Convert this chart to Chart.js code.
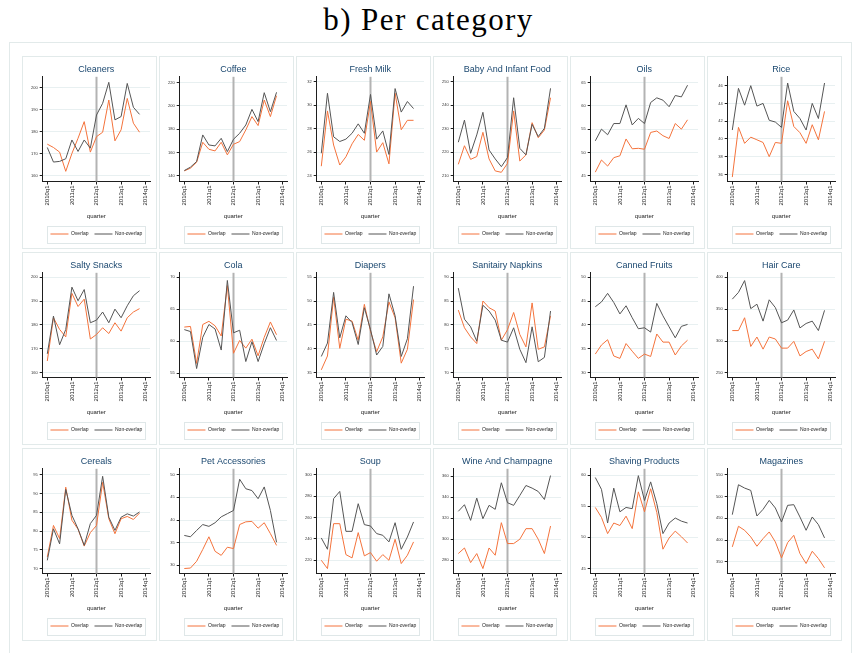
<!DOCTYPE html>
<html>
<head>
<meta charset="utf-8">
<script src="https://cdn.jsdelivr.net/npm/chart.js@4.4.1/dist/chart.umd.min.js"></script>
<style>
  body { margin: 0; background: #fff; width: 857px; height: 653px; overflow: hidden; position: relative; }
  #title { position: absolute; left: 0; top: 0; width: 857px; text-align: center; line-height: 40px;
           font-family: "Liberation Serif", "DejaVu Serif", serif; font-size: 31px; letter-spacing: 1.4px; color: #000; }
  #frame { position: absolute; left: 9px; top: 42px; width: 843px; height: 640px; border: 1px solid #e2eaea; box-sizing: border-box; }
  .panel { position: absolute; width: 135px; height: 193px; border: 1px solid #e2eaea; box-sizing: border-box; }
  canvas { position: absolute; }
</style>
</head>
<body>
<div id="title">b) Per category</div>
<div id="frame"></div>
<div id="grid"></div>
<script>
// quarters 2010q1 .. 2013q4 -> x = 0..15
const QUARTERS = ['2010q1','2010q2','2010q3','2010q4','2011q1','2011q2','2011q3','2011q4',
                  '2012q1','2012q2','2012q3','2012q4','2013q1','2013q2','2013q3','2013q4'];
const X_TICK_POS    = [0, 4, 8, 12, 16];
const X_TICK_LABELS = ['2010q1', '2011q1', '2012q1', '2013q1', '2014q1'];
const X_RANGE = [-0.75, 16.7];
const REF_QUARTER = 8; // 2012q1

const CATEGORIES = ['Cleaners', 'Coffee', 'Fresh Milk', 'Baby And Infant Food', 'Oils', 'Rice',
                    'Salty Snacks', 'Cola', 'Diapers', 'Sanitairy Napkins', 'Canned Fruits', 'Hair Care',
                    'Cereals', 'Pet Accessories', 'Soup', 'Wine And Champagne', 'Shaving Products', 'Magazines'];

const OVERLAP = [
  [174.3,172.8,170.7,162.0,170.1,177.0,184.5,170.7,177.7,179.7,194.3,175.8,180.8,195.0,183.8,179.7], // Cleaners
  [144.2,146.5,151.6,168.7,162.7,161.3,168.7,157.9,167.0,169.3,179.3,190.7,183.0,204.9,190.7,208.6], // Coffee
  [24.8,29.5,26.6,24.9,25.6,26.7,27.5,27.0,30.3,26.0,26.8,25.0,31.0,27.9,28.7,28.7],                // Fresh Milk
  [214.9,222.8,217.0,218.2,228.5,217.2,212.1,211.5,215.3,237.6,216.3,218.9,232.6,226.2,229.5,243.2], // Baby
  [45.8,48.4,47.1,48.9,49.3,52.9,50.8,50.9,50.7,54.3,54.6,53.6,53.0,56.2,55.0,57.0],                // Oils
  [35.7,41.3,39.5,40.2,39.9,39.6,38.0,39.6,39.5,44.3,41.4,40.7,39.5,41.6,39.9,43.1],                // Rice
  [164.9,183.0,178.1,175.0,193.2,187.7,190.8,174.1,176.0,178.8,176.4,180.9,177.4,183.0,185.4,186.8], // Salty Snacks
  [62.2,62.3,56.5,62.6,63.1,62.4,60.8,68.7,58.1,60.1,58.9,60.3,57.7,60.6,63.0,61.0],                // Cola
  [35.6,38.5,50.8,40.1,46.2,45.8,41.8,49.3,43.7,39.4,42.5,49.8,46.5,37.0,39.9,50.3],                // Diapers
  [83.1,79.4,77.5,76.1,85.0,83.6,82.9,76.8,79.0,82.6,78.0,75.4,84.6,74.9,75.4,81.9],                // Sanitairy Napkins
  [33.9,35.8,36.9,33.5,33.0,36.1,34.5,33.0,33.9,33.4,38.1,36.4,36.4,33.7,35.6,36.8],                // Canned Fruits
  [316.4,316.4,336.5,291.5,306.3,287.3,306.3,303.2,288.9,288.9,299.5,276.7,283.6,287.3,272.0,299.5], // Hair Care
  [73.1,81.5,78.0,91.7,82.9,80.5,76.0,79.6,81.5,93.0,83.3,79.3,83.3,83.9,83.1,84.8],                // Cereals
  [29.3,29.4,30.9,33.5,36.3,33.1,32.2,34.0,33.7,39.0,39.6,39.7,38.2,39.4,37.0,34.4],                // Pet Accessories
  [219.9,212.1,254.2,254.2,225.2,222.1,245.8,224.0,227.1,219.0,225.2,219.9,239.6,216.8,224.6,237.1], // Soup
  [286.3,291.6,277.7,286.3,272.0,291.6,284.7,315.7,295.8,295.8,299.9,310.0,310.0,299.9,286.3,312.5], // Wine
  [54.8,53.2,50.6,52.3,51.9,53.4,51.4,57.3,54.1,57.8,54.0,48.1,49.9,51.0,50.1,49.1],                // Shaving
  [384.4,431.7,422.5,407.3,385.9,403.4,418.7,395.8,359.2,394.3,411.0,369.1,346.2,374.4,357.6,336.3]  // Magazines
];

const NON_OVERLAP = [
  [172.8,166.2,166.5,167.7,176.2,171.0,176.2,172.5,187.5,192.8,202.3,185.3,186.8,201.8,191.0,187.8],
  [144.5,147.4,152.2,175.0,166.4,165.6,172.1,160.7,171.3,176.4,183.5,196.9,186.4,211.2,194.9,211.5],
  [25.9,31.0,27.3,26.9,27.1,27.6,28.4,27.6,30.9,27.1,27.8,25.8,31.4,29.4,30.3,29.7],
  [224.3,233.7,219.6,227.4,237.0,221.0,217.2,213.9,217.8,243.2,221.7,218.9,231.9,226.7,230.2,247.2],
  [52.5,55.0,53.8,56.2,56.2,60.2,55.9,57.3,56.2,60.7,61.7,61.2,59.8,62.2,61.9,64.4],
  [41.0,45.7,43.8,46.0,43.7,44.0,42.1,41.9,41.3,46.3,43.1,42.3,41.0,44.0,42.3,46.3],
  [167.9,183.7,171.7,178.1,195.8,190.1,194.8,180.9,182.0,185.4,180.9,186.6,183.0,188.0,192.2,194.3],
  [61.8,61.5,55.7,60.6,62.6,61.9,58.6,69.5,61.3,61.7,56.8,59.9,56.8,59.6,62.1,60.1],
  [38.4,41.2,51.8,42.3,46.9,45.5,40.9,48.6,44.0,38.7,40.5,51.5,46.9,38.4,42.1,53.1],
  [87.7,81.2,79.6,76.6,84.1,82.9,81.0,76.8,76.4,79.4,74.9,72.1,79.6,72.3,73.2,82.9],
  [43.8,44.8,46.6,44.7,42.3,44.0,41.5,39.2,39.4,38.5,44.5,41.9,39.6,37.3,39.7,40.1],
  [365.6,376.2,394.7,350.8,357.7,331.2,364.6,352.4,328.6,332.8,348.7,320.6,327.5,331.2,316.4,348.1],
  [72.2,80.6,76.6,91.1,84.2,80.6,76.2,82.0,84.2,94.6,83.7,80.2,83.7,84.6,84.0,85.1],
  [36.6,36.3,37.7,39.0,38.6,39.4,40.7,41.4,42.1,49.0,46.9,46.5,44.7,47.3,42.1,35.1],
  [240.8,230.2,277.6,284.4,247.0,247.0,272.9,253.3,252.0,244.9,243.3,237.1,255.1,230.2,241.7,255.8],
  [326.5,332.8,317.9,339.1,319.5,332.2,328.4,353.7,334.7,332.2,341.6,351.1,348.6,345.4,337.8,360.6],
  [59.6,57.7,52.3,57.9,54.1,54.8,54.6,59.9,55.9,58.9,55.4,50.6,52.3,53.1,52.6,52.3],
  [458.4,527.1,519.5,514.1,455.3,470.6,491.2,473.7,441.6,479.8,481.3,453.1,422.5,453.1,435.5,405.0]
];

const Y_RANGE = [
  [157.4,204.8],[135.1,224.8],[23.5,32.4],[207.6,252.1],[43.8,66.2],[35.2,47.0],
  [158.0,201.8],[54.3,70.7],[34.0,55.9],[69.0,90.9],[29.0,50.9],[242.9,406.9],
  [68.7,96.6],[28.2,51.3],[207.5,305.6],[267.3,367.0],[44.2,61.0],[323.3,563.7]
];

const Y_TICKS = [
  [160,170,180,190,200], [140,160,180,200,220], [24,26,28,30,32], [210,220,230,240,250], [45,50,55,60,65], [36,38,40,42,44,46],
  [160,170,180,190,200], [55,60,65,70], [35,40,45,50,55], [70,75,80,85,90], [30,35,40,45,50], [250,300,350,400],
  [70,75,80,85,90,95], [30,35,40,45,50], [220,240,260,280,300], [280,300,320,340,360], [45,50,55,60], [350,400,450,500,550]
];

const ORANGE = '#f4733c';
const GREY   = '#555555';
const AXIS   = '#1e1e1e';

Chart.defaults.font.family = '"Liberation Sans", Arial, sans-serif';

const refLine = {
  id: 'refLine',
  beforeDatasetsDraw(chart) {
    const { ctx, chartArea: a, scales: { x } } = chart;
    const px = x.getPixelForValue(REF_QUARTER);
    ctx.save();
    ctx.strokeStyle = '#b3b3b3';
    ctx.lineWidth = 2;
    ctx.beginPath(); ctx.moveTo(px, a.top); ctx.lineTo(px, a.bottom); ctx.stroke();
    ctx.restore();
  }
};

const legendFrame = {
  id: 'legendFrame',
  afterDraw(chart) {
    const hb = chart.legend.legendHitBoxes;
    if (!hb || !hb.length) return;
    const first = hb[0], last = hb[hb.length - 1];
    const cy = first.top + first.height / 2;
    const { ctx } = chart;
    ctx.save();
    ctx.strokeStyle = '#dfe7e8';
    ctx.lineWidth = 1;
    const l = Math.round(first.left - 3) + 0.5, r = Math.round(last.left + last.width + 3) + 0.5;
    ctx.strokeRect(l, Math.round(cy - 8.5) + 0.5, r - l, 17);
    ctx.restore();
  }
};

const grid = document.getElementById('grid');

CATEGORIES.forEach((cat, i) => {
  const col = i % 6, row = Math.floor(i / 6);
  const left = 22 + col * 137, top = 56 + row * 196;

  const box = document.createElement('div');
  box.className = 'panel';
  box.style.left = left + 'px'; box.style.top = top + 'px';
  grid.appendChild(box);

  const canvas = document.createElement('canvas');
  canvas.width = 135; canvas.height = 193;
  canvas.style.left = left + 'px'; canvas.style.top = top + 'px';
  canvas.style.width = '135px'; canvas.style.height = '193px';
  grid.appendChild(canvas);

  new Chart(canvas, {
    type: 'line',
    data: {
      datasets: [
        {
          label: 'Overlap',
          data: OVERLAP[i].map((v, k) => ({ x: k, y: v })),
          borderColor: ORANGE, backgroundColor: ORANGE,
          borderWidth: 1, pointRadius: 0, tension: 0, fill: false, order: 1
        },
        {
          label: 'Non-overlap',
          data: NON_OVERLAP[i].map((v, k) => ({ x: k, y: v })),
          borderColor: GREY, backgroundColor: GREY,
          borderWidth: 1, pointRadius: 0, tension: 0, fill: false, order: 0
        }
      ]
    },
    options: {
      responsive: false, animation: false, devicePixelRatio: 1,
      layout: { padding: { left: 0, right: 7, top: 0, bottom: 2.5 } },
      plugins: {
        title: {
          display: true, text: cat, color: '#1a476f', fullSize: false,
          font: { size: 9, weight: 'normal' }, padding: { top: 8, bottom: 2 }
        },
        legend: {
          position: 'bottom', fullSize: false,
          labels: {
            usePointStyle: true, pointStyle: 'line', pointStyleWidth: 18,
            font: { size: 5 }, color: '#222', padding: 6,
            sort: (a, b) => a.datasetIndex - b.datasetIndex
          }
        },
        tooltip: { enabled: false }
      },
      scales: {
        x: {
          type: 'linear', min: X_RANGE[0], max: X_RANGE[1],
          afterBuildTicks: s => { s.ticks = X_TICK_POS.map(v => ({ value: v })); },
          afterFit: s => { s.height = 44; },
          grid: { drawOnChartArea: false, tickColor: AXIS, tickLength: 3 },
          border: { color: AXIS, width: 1 },
          ticks: {
            autoSkip: false, maxRotation: 90, minRotation: 90, padding: 1,
            font: { size: 6 }, color: '#222',
            callback: v => X_TICK_LABELS[X_TICK_POS.indexOf(v)]
          },
          title: { display: true, text: 'quarter', color: '#222', font: { size: 6 }, padding: { top: 0, bottom: 5.2 } }
        },
        y: {
          min: Y_RANGE[i][0], max: Y_RANGE[i][1],
          afterBuildTicks: s => { s.ticks = Y_TICKS[i].map(v => ({ value: v })); },
          afterFit: s => { s.width = 20.7; },
          grid: { color: '#e8f0f1', lineWidth: 1, tickColor: AXIS, tickLength: 3 },
          border: { color: AXIS, width: 1 },
          ticks: { font: { size: 4 }, color: '#333', padding: 2 }
        }
      }
    },
    plugins: [refLine, legendFrame]
  });
});
</script>
</body>
</html>
